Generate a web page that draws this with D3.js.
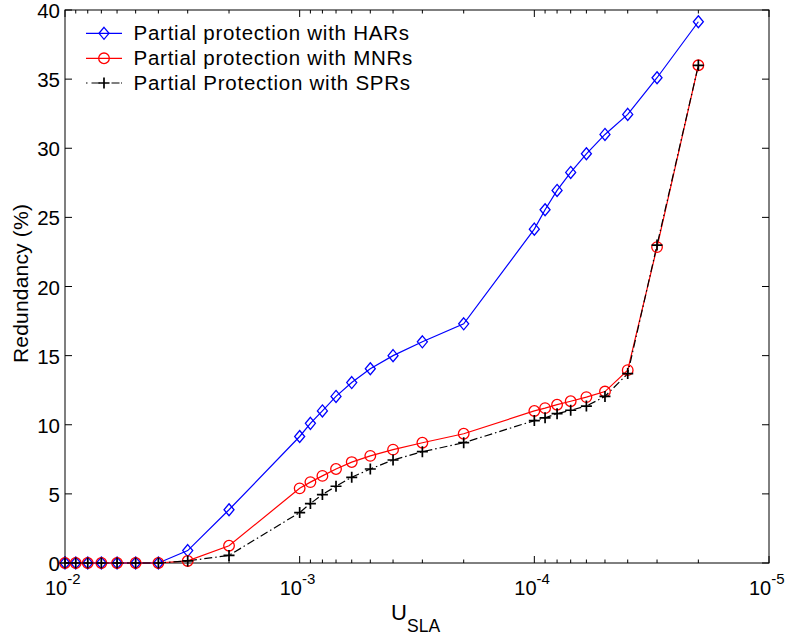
<!DOCTYPE html>
<html><head><meta charset="utf-8">
<script src="https://cdn.jsdelivr.net/npm/d3@7"></script>
<style>body{margin:0;background:#fff}svg{display:block}text{font-family:"Liberation Sans",Arial,sans-serif;fill:#000}</style>
</head><body>
<svg id="c" width="788" height="637"></svg>
<script>
const uSLA = [0.01,0.009,0.008,0.007,0.006,0.005,0.004,0.003,0.002,
  0.001,0.0009,0.0008,0.0007,0.0006,0.0005,0.0004,0.0003,0.0002,
  1e-4,9e-5,8e-5,7e-5,6e-5,5e-5,4e-5,3e-5,2e-5];
const harValues = [0,0,0,0,0,0,0,0.9,3.85,
  9.15,10.1,11.0,12.05,13.05,14.05,15.0,16.0,17.3,
  24.15,25.55,26.95,28.25,29.6,31.0,32.45,35.1,39.15];
const mnrValues = [0,0,0,0,0,0,0,0.15,1.25,
  5.4,5.85,6.3,6.8,7.3,7.75,8.2,8.7,9.35,
  11.0,11.2,11.45,11.7,12.0,12.4,13.95,22.85,36.0];
const sprValues = [0,0,0,0,0,0,0,0.15,0.55,
  3.65,4.3,4.95,5.55,6.2,6.8,7.45,8.05,8.7,
  10.3,10.5,10.8,11.05,11.35,12.05,13.7,23.0,36.0];
const xTicks = [1e-2,1e-3,1e-4,1e-5];
const xTickExp = ["-2","-3","-4","-5"];
const yTicks = [0,5,10,15,20,25,30,35,40];
const seriesNames = ["Partial protection with HARs","Partial protection with MNRs","Partial Protection with SPRs"];

const svg = d3.select("#c");
const L=65, R=769, T=10, B=563;
const x = d3.scaleLog().domain([1e-2,1e-5]).range([L,R]);
const y = d3.scaleLinear().domain([0,40]).range([B,T]);

// minor ticks
const minor=[];
[1e-3,1e-4,1e-5].forEach(d=>{for(let k=2;k<=9;k++)minor.push(d*k);});
const g = svg.append("g");
minor.forEach(v=>{
  g.append("line").attr("x1",x(v)).attr("x2",x(v)).attr("y1",B).attr("y2",B-3.5).attr("stroke","#000");
  g.append("line").attr("x1",x(v)).attr("x2",x(v)).attr("y1",T).attr("y2",T+3.5).attr("stroke","#000");
});
xTicks.forEach((v,i)=>{
  g.append("line").attr("x1",x(v)).attr("x2",x(v)).attr("y1",B).attr("y2",B-7).attr("stroke","#000");
  g.append("line").attr("x1",x(v)).attr("x2",x(v)).attr("y1",T).attr("y2",T+7).attr("stroke","#000");
  const t=g.append("text").attr("x",x(v)-20).attr("y",595).attr("text-anchor","start").style("font-size","20px");
  t.append("tspan").text("10");
  t.append("tspan").attr("dy",-11).style("font-size","15px").text(xTickExp[i]);
});
yTicks.forEach(v=>{
  g.append("line").attr("x1",L).attr("x2",L+7).attr("y1",y(v)).attr("y2",y(v)).attr("stroke","#000");
  g.append("line").attr("x1",R).attr("x2",R-7).attr("y1",y(v)).attr("y2",y(v)).attr("stroke","#000");
  g.append("text").attr("x",L-5).attr("y",y(v)+8).attr("text-anchor","end").style("font-size","20.5px").text(v);
});
g.append("rect").attr("x",L).attr("y",T).attr("width",R-L).attr("height",B-T).attr("fill","none").attr("stroke","#000").attr("stroke-width",1);

// labels
const xl=svg.append("text").attr("x",391).attr("y",620).attr("text-anchor","start");
xl.append("tspan").style("font-size","22px").text("U");
xl.append("tspan").attr("x",407).attr("y",631.5).style("font-size","17.5px").text("SLA");
svg.append("text").attr("transform","translate(28,283.5) rotate(-90)").attr("text-anchor","middle").style("font-size","21px").style("letter-spacing","0.2px").text("Redundancy (%)");

const line = d3.line().x(d=>x(d[0])).y(d=>y(d[1]));
const har = uSLA.map((u,i)=>[u,harValues[i]]);
const mnr = uSLA.map((u,i)=>[u,mnrValues[i]]);
const spr = uSLA.map((u,i)=>[u,sprValues[i]]);

const dashDot="8,3,1.5,3";
svg.append("path").attr("d",line(har)).attr("fill","none").attr("stroke","#0000ff").attr("stroke-width",1.2);
svg.append("path").attr("d",line(mnr)).attr("fill","none").attr("stroke","#ff0000").attr("stroke-width",1.2);
svg.append("path").attr("d",line(spr)).attr("fill","none").attr("stroke","#000").attr("stroke-width",1.2).attr("stroke-dasharray",dashDot);

function diamond(sel,cx,cy){sel.append("path").attr("d",`M${cx},${cy-6}L${cx+5},${cy}L${cx},${cy+6}L${cx-5},${cy}Z`).attr("fill","none").attr("stroke","#0000ff").attr("stroke-width",1.3);}
function circle(sel,cx,cy){sel.append("circle").attr("cx",cx).attr("cy",cy).attr("r",5.3).attr("fill","none").attr("stroke","#ff0000").attr("stroke-width",1.3);}
function plus(sel,cx,cy){sel.append("path").attr("d",`M${cx-5.5},${cy}H${cx+5.5}M${cx},${cy-5.5}V${cy+5.5}`).attr("fill","none").attr("stroke","#000").attr("stroke-width",1.7);}
const m=svg.append("g");
har.forEach(d=>diamond(m,x(d[0]),y(d[1])));
mnr.forEach(d=>circle(m,x(d[0]),y(d[1])));
spr.forEach(d=>plus(m,x(d[0]),y(d[1])));

// legend
const lg=svg.append("g");
const rows=[33.3,58.3,83];
lg.append("line").attr("x1",86).attr("x2",122).attr("y1",rows[0]).attr("y2",rows[0]).attr("stroke","#0000ff").attr("stroke-width",1.2);
diamond(lg,104,rows[0]);
lg.append("line").attr("x1",86).attr("x2",122).attr("y1",rows[1]).attr("y2",rows[1]).attr("stroke","#ff0000").attr("stroke-width",1.2);
circle(lg,104,rows[1]);
lg.append("line").attr("x1",86).attr("x2",122).attr("y1",rows[2]).attr("y2",rows[2]).attr("stroke","#000").attr("stroke-width",1.2).attr("stroke-dasharray","1.5,4,8,12,8");
plus(lg,104,rows[2]);
seriesNames.forEach((s,i)=>lg.append("text").attr("x",133.5).attr("y",rows[i]+6.5).style("font-size","20.5px").style("letter-spacing","0.75px").text(s));
</script>
</body></html>
